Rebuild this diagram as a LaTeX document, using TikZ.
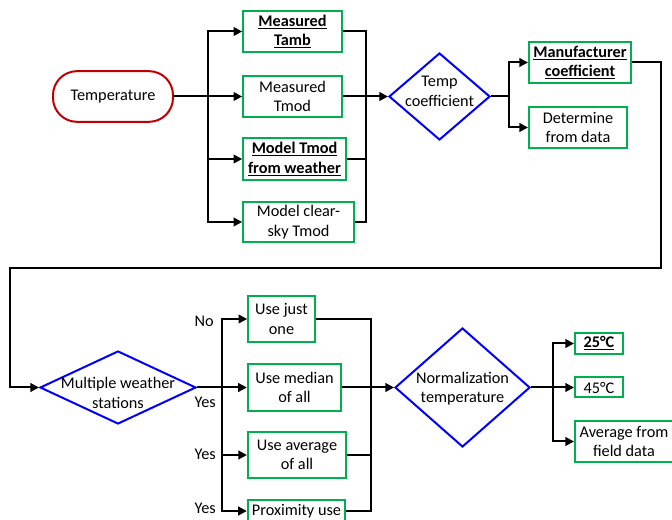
\documentclass[tikz,border=0pt]{standalone}
\usepackage{fontspec}
\setmainfont{Carlito}
\usetikzlibrary{shapes.geometric, arrows.meta, positioning, calc}
\definecolor{optgreen}{RGB}{0, 176, 80}
\definecolor{choiceblue}{RGB}{0, 0, 255}
\definecolor{startred}{RGB}{192, 0, 0}
\newcommand{\keyopt}[1]{\underline{\textbf{#1}}}
\tikzset{
  startbox/.style={rectangle, rounded corners=18pt, draw=startred,
              line width=1.5pt, minimum width=90pt, minimum height=38pt,
              align=center},
  optbox/.style={rectangle, draw=optgreen, line width=1.5pt, align=center,
              inner sep=2pt, minimum width=#1, minimum height=31pt},
  optbox/.default=74pt,
  choice/.style={diamond, draw=choiceblue, line width=1.5pt,
              inner sep=0pt, minimum width=#1},
  link/.style={line width=1.5pt, black},
  arrow/.style={link, -{Triangle[length=6.5pt, width=6.5pt]}},
  answer/.style={anchor=east, inner sep=0pt},
}
\begin{document}
\begin{tikzpicture}[x=0.75pt, y=-0.75pt, font=\fontsize{12.2}{14.6}\selectfont]
  \useasboundingbox (0,0) rectangle (672,520);
  \clip (0,0) rectangle (672,520);
  % Temperature source
  \node[startbox] (temp) at (113,96.5) {Temperature};
  \node[optbox] (tamb) at (292.5,31.5) {\keyopt{Measured}\\\keyopt{Tamb}};
  \node[optbox] (tmod) at (292.5,96.5) {Measured\\Tmod};
  \node[optbox=77pt] (mtw) at (294.5,159) {\keyopt{Model Tmod}\\\keyopt{from weather}};
  \node[optbox=83pt, minimum height=30pt] (csky) at (298.5,222) {Model clear-\\sky Tmod};
  % Temp coefficient
  \node[choice=75.75pt, minimum height=65.25pt,
        label={[align=center, yshift=4pt]center:Temp\\coefficient}] (tc) at (439.5,96.5) {};
  \node[optbox=76.5pt] (manu) at (580,62.5) {\keyopt{Manufacturer}\\\keyopt{coefficient}};
  \node[optbox=73.5pt] (det) at (578,127.5) {Determine\\from data};
  % Weather stations
  \node[choice=117pt, minimum height=54.75pt,
        label={[align=center, yshift=-4pt]center:Multiple weather\\stations}] (mws) at (118,387.5) {};
  \node[optbox=50pt, minimum height=34.5pt] (one) at (281.5,319) {Use just\\one};
  \node[optbox=70pt, minimum height=35pt] (med) at (294.5,387.5) {Use median\\of all};
  \node[optbox=73.5pt, minimum height=34.5pt] (avg) at (297,455) {Use average\\of all};
  \node[optbox=73pt, minimum height=29pt, anchor=north] (prox) at (296.5,499) {Proximity use\\\mbox{}};
  \node[answer] (ansno) at (214,321) {No};
  \node[answer] (ansmed) at (216,402) {Yes};
  \node[answer] (ansavg) at (216,454) {Yes};
  \node[answer] (ansprox) at (216,508) {Yes};
  % Normalization temperature
  \node[choice=101.25pt, minimum height=89.25pt,
        label={[align=center, yshift=-1pt]center:Normalization\\temperature}] (norm) at (462.5,387.5) {};
  \node[optbox=36pt, minimum height=15.75pt, inner sep=1pt] (t25) at (599,343.5) {\keyopt{25°C}};
  \node[optbox=36pt, minimum height=15pt, inner sep=1pt] (t45) at (599,387.5) {45°C};
  \node[optbox=73.5pt] (fld) at (624,441.5) {Average from\\field data};
  % Connectors - first row
  \coordinate (jT) at (208,96.5);
  \draw[link] (temp.east) -- (jT);
  \foreach \b in {tamb,tmod,mtw,csky}{
    \draw[arrow] (jT) |- (\b.west);
    \draw[link] (\b.east) -| (366,96.5);
  }
  \coordinate (cA) at (366,96.5);
  \draw[arrow] (cA) -- (tc.west);
  \coordinate (jC) at (509,96.5);
  \draw[link] (tc.east) -- (jC);
  \draw[arrow] (jC) |- (manu.west);
  \draw[arrow] (jC) |- (det.west);
  % Wrap to second row
  \coordinate (wrapR) at (661,268);
  \coordinate (wrapL) at (10,268);
  \draw[arrow] (manu.east) -| (wrapR) -- (wrapL) |- (mws.west);
  % Connectors - second row
  \coordinate (jW) at (222,387.5);
  \coordinate (cB) at (371,387.5);
  \coordinate (proxin) at ($(prox.north west)+(0,12)$);
  \coordinate (proxout) at ($(prox.north east)+(0,12)$);
  \draw[link] (mws.east) -- (jW);
  \foreach \b in {one,med,avg}{
    \draw[arrow] (jW) |- (\b.west);
    \draw[link] (\b.east) -| (cB);
  }
  \draw[arrow] (jW) |- (proxin);
  \draw[link] (proxout) -| (cB);
  \draw[arrow] (cB) -- (norm.west);
  \coordinate (jN) at (553,387.5);
  \draw[link] (norm.east) -- (jN);
  \foreach \b in {t25,t45,fld}
    \draw[arrow] (jN) |- (\b.west);
\end{tikzpicture}
\end{document}
